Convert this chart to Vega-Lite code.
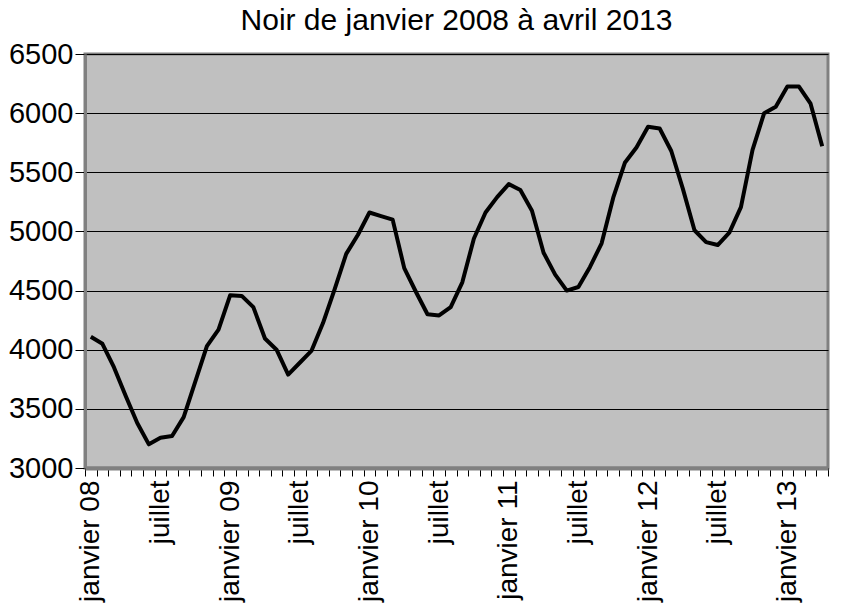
{
  "$schema": "https://vega.github.io/schema/vega-lite/v6.json",
  "width": 842,
  "height": 610,
  "autosize": {"type": "fit", "contains": "padding"},
  "padding": {"left": 8, "right": 6, "top": 6, "bottom": 8},
  "background": "white",
  "title": {
    "text": "Noir de janvier 2008 à avril 2013",
    "font": "Liberation Sans",
    "fontSize": 30,
    "fontWeight": "normal",
    "color": "black",
    "offset": 4
  },
  "config": {
    "font": "Liberation Sans",
    "view": {"fill": "#C0C0C0", "stroke": "#808080", "strokeWidth": 3}
  },
  "data": {
    "values": [
      {"mois": "2008-01", "valeur": 4110},
      {"mois": "2008-02", "valeur": 4050},
      {"mois": "2008-03", "valeur": 3850},
      {"mois": "2008-04", "valeur": 3610},
      {"mois": "2008-05", "valeur": 3380},
      {"mois": "2008-06", "valeur": 3200},
      {"mois": "2008-07", "valeur": 3255},
      {"mois": "2008-08", "valeur": 3270},
      {"mois": "2008-09", "valeur": 3430},
      {"mois": "2008-10", "valeur": 3730},
      {"mois": "2008-11", "valeur": 4030},
      {"mois": "2008-12", "valeur": 4170},
      {"mois": "2009-01", "valeur": 4460},
      {"mois": "2009-02", "valeur": 4455},
      {"mois": "2009-03", "valeur": 4360},
      {"mois": "2009-04", "valeur": 4095},
      {"mois": "2009-05", "valeur": 4000},
      {"mois": "2009-06", "valeur": 3790},
      {"mois": "2009-07", "valeur": 3890},
      {"mois": "2009-08", "valeur": 3990},
      {"mois": "2009-09", "valeur": 4225},
      {"mois": "2009-10", "valeur": 4510},
      {"mois": "2009-11", "valeur": 4810},
      {"mois": "2009-12", "valeur": 4970},
      {"mois": "2010-01", "valeur": 5160},
      {"mois": "2010-02", "valeur": 5130},
      {"mois": "2010-03", "valeur": 5100},
      {"mois": "2010-04", "valeur": 4690},
      {"mois": "2010-05", "valeur": 4490},
      {"mois": "2010-06", "valeur": 4300},
      {"mois": "2010-07", "valeur": 4290},
      {"mois": "2010-08", "valeur": 4360},
      {"mois": "2010-09", "valeur": 4570},
      {"mois": "2010-10", "valeur": 4940},
      {"mois": "2010-11", "valeur": 5160},
      {"mois": "2010-12", "valeur": 5290},
      {"mois": "2011-01", "valeur": 5400},
      {"mois": "2011-02", "valeur": 5350},
      {"mois": "2011-03", "valeur": 5175},
      {"mois": "2011-04", "valeur": 4820},
      {"mois": "2011-05", "valeur": 4635},
      {"mois": "2011-06", "valeur": 4500},
      {"mois": "2011-07", "valeur": 4530},
      {"mois": "2011-08", "valeur": 4700},
      {"mois": "2011-09", "valeur": 4900},
      {"mois": "2011-10", "valeur": 5285},
      {"mois": "2011-11", "valeur": 5580},
      {"mois": "2011-12", "valeur": 5710},
      {"mois": "2012-01", "valeur": 5885},
      {"mois": "2012-02", "valeur": 5870},
      {"mois": "2012-03", "valeur": 5680},
      {"mois": "2012-04", "valeur": 5360},
      {"mois": "2012-05", "valeur": 5010},
      {"mois": "2012-06", "valeur": 4910},
      {"mois": "2012-07", "valeur": 4885},
      {"mois": "2012-08", "valeur": 4990},
      {"mois": "2012-09", "valeur": 5205},
      {"mois": "2012-10", "valeur": 5690},
      {"mois": "2012-11", "valeur": 6000},
      {"mois": "2012-12", "valeur": 6055},
      {"mois": "2013-01", "valeur": 6225},
      {"mois": "2013-02", "valeur": 6225},
      {"mois": "2013-03", "valeur": 6080},
      {"mois": "2013-04", "valeur": 5720}
    ]
  },
  "mark": {"type": "line", "color": "black", "strokeWidth": 4, "strokeJoin": "round"},
  "encoding": {
    "x": {
      "field": "mois",
      "type": "ordinal",
      "bandPosition": 0.5,
      "scale": {"type": "band", "paddingInner": 0, "paddingOuter": 0},
      "axis": {
        "title": null,
        "labelAngle": -90,
        "labelExpr": "substring(datum.value,5,7)=='01' ? 'janvier ' + substring(datum.value,2,4) : (substring(datum.value,5,7)=='07' ? 'juillet' : '')",
        "tickBand": "extent",
        "tickSize": 8,
        "tickColor": "black",
        "labelFont": "Liberation Sans",
        "labelFontSize": 28,
        "labelColor": "black",
        "labelPadding": 4,
        "labelOverlap": false,
        "labelBound": false,
        "domainColor": "#808080",
        "domainWidth": 4
      }
    },
    "y": {
      "field": "valeur",
      "type": "quantitative",
      "scale": {"domain": [3000, 6500], "nice": false, "zero": false},
      "axis": {
        "title": null,
        "values": [3000, 3500, 4000, 4500, 5000, 5500, 6000, 6500],
        "format": "d",
        "grid": true,
        "gridColor": "black",
        "gridWidth": 1,
        "tickColor": "black",
        "tickSize": 10,
        "labelFont": "Liberation Sans",
        "labelFontSize": 29,
        "labelColor": "black",
        "labelPadding": 2,
        "domainColor": "#808080",
        "domainWidth": 3
      }
    }
  }
}
